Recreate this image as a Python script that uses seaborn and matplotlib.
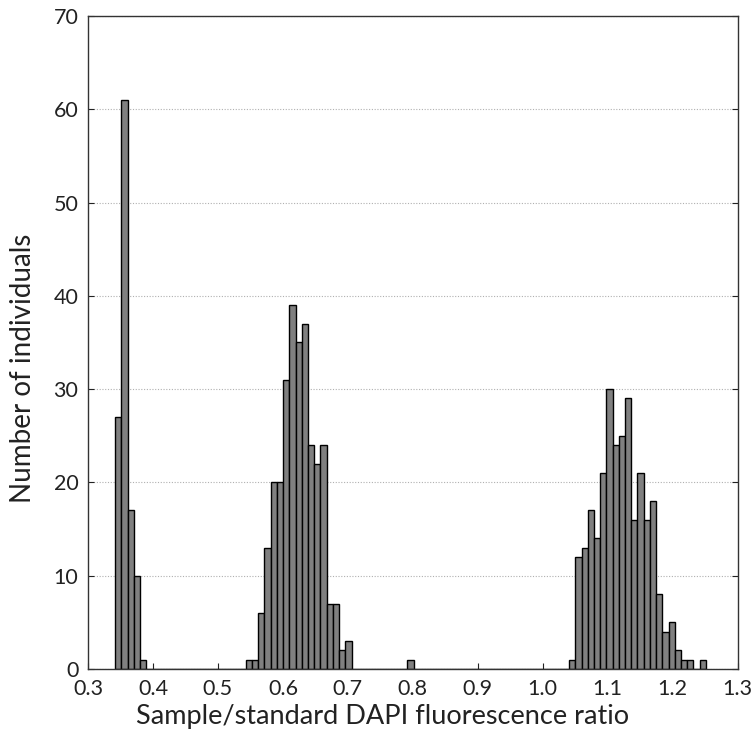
import numpy as np
import pandas as pd
import matplotlib
matplotlib.use("Agg")
import matplotlib.pyplot as plt
import seaborn as sns

# Histogram bins (95 equal bins between min and max ratio)
bin_start = 0.342
bin_end = 1.251
n_bins = 95

# Counts of non-empty bins, grouped by cluster: (first bin index, counts)
cluster1_start = 0
cluster1_counts = [27, 61, 17, 10, 1]
cluster2_start = 21
cluster2_counts = [1, 1, 6, 13, 20, 20, 31, 39, 35, 37, 24, 22, 24, 7, 7, 2, 3]
single_start = 47
single_counts = [1]
cluster3_start = 73
cluster3_counts = [1, 12, 13, 17, 14, 21, 30, 24, 25, 29, 16, 21, 16, 18, 8, 4, 5, 2, 1, 1, 0, 1]

x_ticks = [0.3, 0.4, 0.5, 0.6, 0.7, 0.8, 0.9, 1.0, 1.1, 1.2, 1.3]
y_ticks = [0, 10, 20, 30, 40, 50, 60, 70]
x_label = "Sample/standard DAPI fluorescence ratio"
y_label = "Number of individuals"

edges = np.linspace(bin_start, bin_end, n_bins + 1)
centers = (edges[:-1] + edges[1:]) / 2
counts = np.zeros(n_bins)
for start, vals in [(cluster1_start, cluster1_counts), (cluster2_start, cluster2_counts),
                    (single_start, single_counts), (cluster3_start, cluster3_counts)]:
    counts[start:start + len(vals)] = vals
df = pd.DataFrame({"ratio": centers, "n": counts})

sns.set_style("white")
plt.rcParams['font.family'] = ['Lato', 'DejaVu Sans']

fig = plt.figure(figsize=(7.52, 7.46), dpi=100)
ax = fig.add_axes([0.117, 0.1032, 0.864, 0.8754])

sns.histplot(data=df, x="ratio", weights="n", bins=n_bins, binrange=(bin_start, bin_end),
             ax=ax, color="#808080", alpha=1.0, edgecolor="black", linewidth=1.0)

ax.set_xlim(0.3, 1.3)
ax.set_ylim(0, 70)
ax.set_xticks(x_ticks)
ax.set_xticklabels([f"{t:.1f}" for t in x_ticks])
ax.set_yticks(y_ticks)
ax.yaxis.grid(True, linestyle=(0, (1, 1.5)), color="#b0b0b0", linewidth=0.8)
ax.xaxis.grid(False)
ax.set_axisbelow(True)

for s in ax.spines.values():
    s.set_visible(True)
    s.set_color("#333333")
    s.set_linewidth(1.0)

ax.tick_params(axis="both", labelsize=15.5, colors="#222222", direction="in", length=4)
ax.tick_params(axis="y", left=True, right=True, pad=7)
ax.tick_params(axis="x", bottom=True, top=False, pad=7)
ax.set_xlabel(x_label, fontsize=19.5, color="#222222")
ax.set_ylabel(y_label, fontsize=20, color="#222222")
ax.xaxis.set_label_coords(0.454, -0.053, transform=ax.transAxes)
ax.xaxis.label.set_va("top")
ax.yaxis.set_label_coords(-0.1, 0.461, transform=ax.transAxes)
ax.yaxis.label.set_va("center")

fig.savefig("out.png", dpi=100)
